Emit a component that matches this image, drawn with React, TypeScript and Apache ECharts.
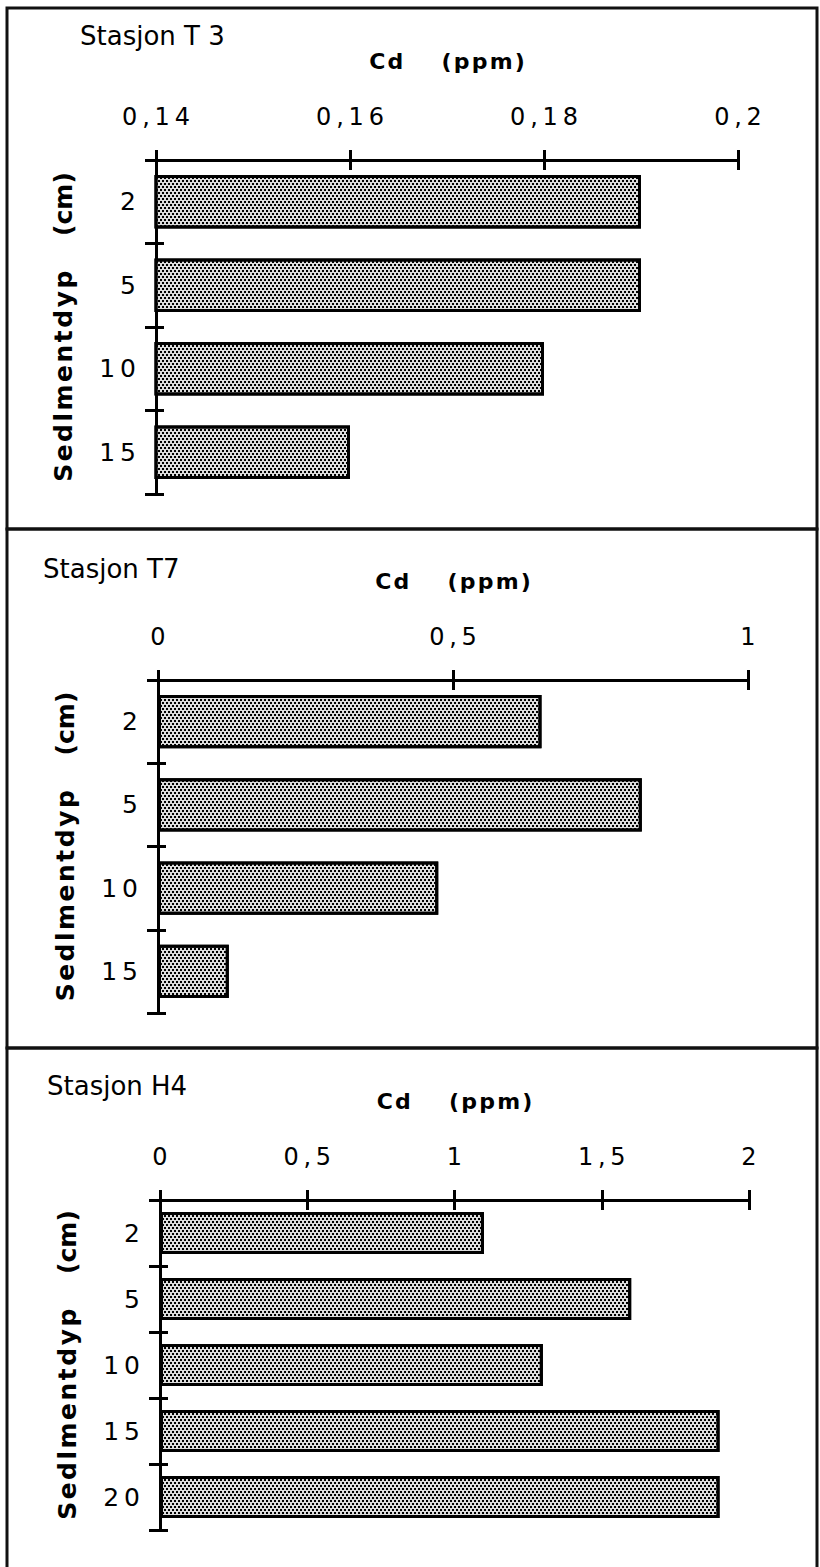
import React, { useEffect, useRef } from "react";
import * as echarts from "echarts";

// ---- data ----
const stationTitles = ["Stasjon T 3", "Stasjon T7", "Stasjon H4"];
const depthT3 = ["2", "5", "10", "15"];
const cdT3 = [0.19, 0.19, 0.18, 0.16];
const depthT7 = ["2", "5", "10", "15"];
const cdT7 = [0.65, 0.82, 0.475, 0.12];
const depthH4 = ["2", "5", "10", "15", "20"];
const cdH4 = [1.1, 1.6, 1.3, 1.9, 1.9];
const scaleT3 = { min: 0.14, max: 0.2, interval: 0.02 };
const scaleT7 = { min: 0, max: 1, interval: 0.5 };
const scaleH4 = { min: 0, max: 2, interval: 0.5 };
const xName = "Cd (ppm)";
const yName = "Sedlmentdyp (cm)";

const THIN = "\u2009";
const HAIR = "\u200A";
const FONT = "'DejaVu Sans', 'Liberation Sans', Arial, sans-serif";

const spaced = (s: string, sep: string) => s.split("").join(sep);
const fmtNum = (v: number) => String(parseFloat(v.toFixed(4))).replace(".", ",");

const xNameText = (() => {
  const [a, b] = xName.split(" ");
  return spaced(a, HAIR) + "     " + spaced(b, HAIR);
})();
const yNameText = (() => {
  const [a, b] = yName.split(" ");
  return spaced(a, HAIR) + "    " + b;
})();

const panels = [
  { cats: depthT3, vals: cdT3, scale: scaleT3, left: 156, right: 82, top: 160, height: 334, titleX: 80, titleY: 36 },
  { cats: depthT7, vals: cdT7, scale: scaleT7, left: 158, right: 72, top: 680, height: 333, titleX: 43, titleY: 569 },
  { cats: depthH4, vals: cdH4, scale: scaleH4, left: 160, right: 71, top: 1200, height: 330, titleX: 47, titleY: 1086 },
];

const frames = [
  { y: 8, h: 521 },
  { y: 529, h: 519 },
  { y: 1048, h: 524 },
];

function buildOption() {
  const black = "#000";
  const grid: any[] = [];
  const xAxis: any[] = [];
  const yAxis: any[] = [];
  const series: any[] = [];
  const graphic: any[] = [];

  panels.forEach((p, i) => {
    grid.push({ left: p.left, right: p.right, top: p.top, height: p.height, containLabel: false });
    xAxis.push({
      gridIndex: i,
      type: "value",
      position: "top",
      min: p.scale.min,
      max: p.scale.max,
      interval: p.scale.interval,
      name: xNameText,
      nameLocation: "middle",
      nameGap: 88,
      nameTextStyle: { fontFamily: FONT, fontSize: 22, fontWeight: "bold", color: black },
      axisLine: { show: true, onZero: false, lineStyle: { color: black, width: 3 } },
      axisTick: { show: true, inside: false, length: 10, lineStyle: { color: black, width: 3 } },
      axisLabel: {
        show: true,
        margin: 31,
        fontFamily: FONT,
        fontSize: 24,
        color: black,
        formatter: (v: number) => spaced(fmtNum(v), THIN),
      },
      splitLine: { show: false },
    });
    xAxis.push({
      gridIndex: i,
      type: "value",
      position: "top",
      min: p.scale.min,
      max: p.scale.max,
      interval: p.scale.interval,
      axisLine: { show: false, onZero: false },
      axisTick: { show: true, inside: true, length: 10, lineStyle: { color: black, width: 3 } },
      axisLabel: { show: false },
      splitLine: { show: false },
    });
    yAxis.push({
      gridIndex: i,
      type: "category",
      inverse: true,
      position: "left",
      data: p.cats,
      name: yNameText,
      nameLocation: "middle",
      nameGap: 80,
      nameRotate: 90,
      nameTextStyle: { fontFamily: FONT, fontSize: 25, fontWeight: "bold", color: black },
      axisLine: { show: true, onZero: false, lineStyle: { color: black, width: 3 } },
      axisTick: { show: true, inside: false, length: 11, lineStyle: { color: black, width: 3 } },
      axisLabel: {
        show: true,
        margin: 20,
        fontFamily: FONT,
        fontSize: 25,
        color: black,
        formatter: (v: string) => spaced(v, THIN),
      },
      splitLine: { show: false },
    });
    yAxis.push({
      gridIndex: i,
      type: "category",
      inverse: true,
      position: "left",
      data: p.cats,
      axisLine: { show: false, onZero: false },
      axisTick: { show: true, inside: true, length: 8, lineStyle: { color: black, width: 3 } },
      axisLabel: { show: false },
      splitLine: { show: false },
    });
    series.push({
      type: "bar",
      xAxisIndex: 2 * i,
      yAxisIndex: 2 * i,
      data: p.vals,
      barCategoryGap: "36%",
      silent: true,
      itemStyle: {
        color: "#dcdcdc",
        borderColor: black,
        borderWidth: 3,
        decal: {
          symbol: "rect",
          symbolSize: 1,
          color: "#000000",
          backgroundColor: "#dcdcdc",
          dashArrayX: [
            [2, 2],
            [0, 2, 2, 0],
          ],
          dashArrayY: [2, 1],
          rotation: 0,
        },
      },
    });
    graphic.push({
      type: "text",
      x: p.titleX,
      y: p.titleY,
      style: {
        text: stationTitles[i],
        fontFamily: FONT,
        fontSize: 26,
        fill: black,
        textVerticalAlign: "middle",
        verticalAlign: "middle",
      },
    });
  });

  frames.forEach((f) => {
    graphic.push({
      type: "rect",
      shape: { x: 7, y: f.y, width: 810, height: f.h },
      style: { fill: "none", stroke: "#111", lineWidth: 3 },
      silent: true,
    });
  });

  return {
    animation: false,
    backgroundColor: "#ffffff",
    textStyle: { fontFamily: FONT },
    grid,
    xAxis,
    yAxis,
    series,
    graphic,
  };
}

export default function App() {
  const ref = useRef<HTMLDivElement>(null);
  useEffect(() => {
    document.body.style.margin = "0";
    if (!ref.current) return;
    const chart = echarts.init(ref.current, null, { renderer: "svg" });
    chart.setOption(buildOption() as any);
    return () => chart.dispose();
  }, []);
  return <div ref={ref} style={{ width: 820, height: 1567 }} />;
}
